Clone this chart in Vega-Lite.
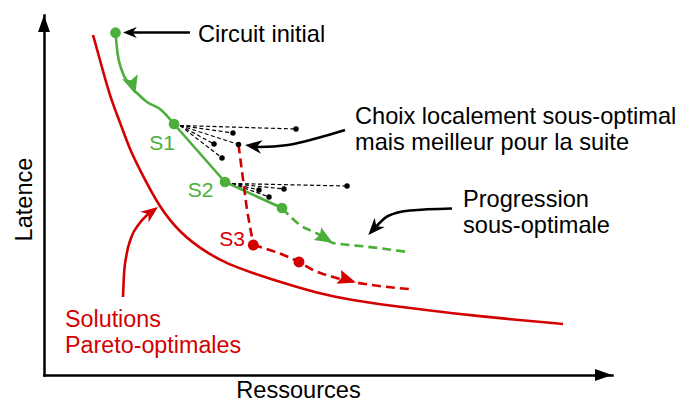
{
  "$schema": "https://vega.github.io/schema/vega-lite/v6.json",
  "width": 568,
  "height": 360,
  "autosize": {"type": "none"},
  "padding": {"left": 44, "top": 15, "right": 79, "bottom": 28},
  "background": "white",
  "config": {"view": {"stroke": null}, "font": "Liberation Sans"},
  "datasets": {
    "pareto": [{"x":8.63,"y":94.44},{"x":9.86,"y":87.5},{"x":11.62,"y":77.22},{"x":13.6,"y":69.3},{"x":15.14,"y":62.5},{"x":16.9,"y":56.94},{"x":20.25,"y":46.75},{"x":23.94,"y":39.44},{"x":28.64,"y":33.89},{"x":32.75,"y":30.56},{"x":36.27,"y":28.61},{"x":42.08,"y":25.56},{"x":48.06,"y":22.78},{"x":53.87,"y":20.83},{"x":62.68,"y":18.89},{"x":71.48,"y":17.22},{"x":83.27,"y":15.28},{"x":91.37,"y":14.17}],
    "gcurve": [{"x":12.59,"y":95.0},{"x":12.94,"y":89.44},{"x":13.68,"y":84.72},{"x":14.96,"y":80.83},{"x":16.55,"y":78.06},{"x":18.13,"y":75.83},{"x":20.42,"y":73.89},{"x":22.89,"y":69.72}],
    "gline": [{"x":22.89,"y":69.72},{"x":31.87,"y":53.61},{"x":41.9,"y":46.39}],
    "gdash": [{"x":41.9,"y":46.39},{"x":45.07,"y":41.67},{"x":48.06,"y":39.31},{"x":50.88,"y":36.67},{"x":52.11,"y":36.39},{"x":56.87,"y":35.64},{"x":64.44,"y":34.08}],
    "rdash1": [{"x":34.24,"y":64.03},{"x":35.74,"y":45.83},{"x":36.85,"y":36.11}],
    "rdash2": [{"x":36.85,"y":36.11},{"x":44.89,"y":31.39},{"x":47.36,"y":29.17},{"x":51.23,"y":27.08},{"x":54.93,"y":25.69},{"x":56.51,"y":25.28},{"x":64.61,"y":23.81}],
    "gpts": [{"x":12.59,"y":95.08},{"x":22.89,"y":69.72},{"x":31.87,"y":53.61},{"x":41.9,"y":46.39}],
    "rpts": [{"x":36.85,"y":36.11},{"x":44.89,"y":31.39}],
    "fans": [
      {"g":"a1","x":23.94,"y":69.31},{"g":"a1","x":44.37,"y":68.33},
      {"g":"a2","x":23.94,"y":69.31},{"g":"a2","x":33.27,"y":67.22},
      {"g":"a3","x":23.94,"y":69.31},{"g":"a3","x":29.93,"y":64.17},
      {"g":"a4","x":23.94,"y":69.31},{"g":"a4","x":34.24,"y":64.03},
      {"g":"a5","x":23.94,"y":69.31},{"g":"a5","x":31.34,"y":60.28},
      {"g":"b1","x":33.1,"y":53.19},{"g":"b1","x":37.85,"y":51.39},
      {"g":"b2","x":33.1,"y":53.19},{"g":"b2","x":39.61,"y":49.44},
      {"g":"b3","x":33.1,"y":53.19},{"g":"b3","x":42.25,"y":51.67},
      {"g":"b4","x":33.1,"y":53.19},{"g":"b4","x":53.35,"y":52.5}
    ],
    "bdots": [{"x":44.37,"y":68.33},{"x":33.27,"y":67.22},{"x":29.93,"y":64.17},{"x":34.24,"y":64.03},{"x":31.34,"y":60.28},{"x":37.85,"y":51.39},{"x":39.61,"y":49.44},{"x":42.25,"y":51.67},{"x":53.35,"y":52.5}],
    "ann": [
      {"a":"ci","x":25.7,"y":95.14},{"a":"ci","x":15.14,"y":95.14},
      {"a":"ch","x":52.99,"y":68.06},{"a":"ch","x":48.01,"y":65.75},{"a":"ch","x":42.96,"y":63.89},{"a":"ch","x":38.03,"y":63.33},{"a":"ch","x":36.62,"y":63.53},
      {"a":"pr","x":71.83,"y":46.25},{"a":"pr","x":64.44,"y":45.69},{"a":"pr","x":60.56,"y":44.17},{"a":"pr","x":58.1,"y":40.56}
    ],
    "rann": [{"x":13.91,"y":21.67},{"x":14.08,"y":27.78},{"x":14.52,"y":33.33},{"x":15.32,"y":38.06},{"x":16.73,"y":41.94},{"x":18.66,"y":45.14}],
    "heads": [
      {"id":"ay","x":0,"y":100},
      {"id":"ax","x":100,"y":0},
      {"id":"ci","x":13.91,"y":95.14},
      {"id":"ch","x":35.39,"y":63.89},
      {"id":"pr","x":57.1,"y":38.89},
      {"id":"so","x":20.07,"y":46.67},
      {"id":"g0","x":16.07,"y":78.06},
      {"id":"g1","x":50.88,"y":36.67},
      {"id":"r1","x":54.93,"y":25.69}
    ],
    "btext": [
      {"x":27.11,"y":92.5,"t":["Circuit initial"]},
      {"x":54.75,"y":69.86,"t":["Choix localement sous-optimal","mais meilleur pour la suite"]},
      {"x":73.77,"y":46.75,"t":["Progression","sous-optimale"]}
    ],
    "rtext": [{"x":3.7,"y":13.42,"t":["Solutions","Pareto-optimales"]}],
    "glab": [{"x":23.06,"y":62.5,"t":"S1"},{"x":29.81,"y":49.31,"t":"S2"}],
    "rlab": [{"x":35.39,"y":35.83,"t":"S3"}]
  },
  "encoding": {
    "x": {"field":"x","type":"quantitative","scale":{"domain":[0,100],"nice":false,"zero":false},
      "axis":{"title":"Ressources","domainColor":"black","domainWidth":2.5,"domainCap":"square","ticks":false,"labels":false,"grid":false,
        "titleFont":"Liberation Sans","titleFontSize":23.6,"titleFontWeight":"normal","titleColor":"black","titleX":254,"titleY":22,"titleBaseline":"alphabetic","titleAlign":"center"}},
    "y": {"field":"y","type":"quantitative","scale":{"domain":[0,100],"nice":false,"zero":false},
      "axis":{"title":"Latence","domainColor":"black","domainWidth":2.5,"domainCap":"square","ticks":false,"labels":false,"grid":false,
        "titleFont":"Liberation Sans","titleFontSize":23.6,"titleFontWeight":"normal","titleColor":"black","titleAngle":270,"titleX":-13,"titleY":184,"titleBaseline":"alphabetic","titleAlign":"center"}}
  },
  "layer": [
    {"data":{"name":"pareto"},"mark":{"type":"line","color":"#d40000","strokeWidth":2.6,"interpolate":"basis"}},
    {"data":{"name":"fans"},"mark":{"type":"line","color":"black","strokeWidth":1.2,"strokeDash":[4,2.5]},"encoding":{"detail":{"field":"g"}}},
    {"data":{"name":"gcurve"},"mark":{"type":"line","color":"#4caf3c","strokeWidth":2.6,"interpolate":"monotone"}},
    {"data":{"name":"gline"},"mark":{"type":"line","color":"#4caf3c","strokeWidth":2.6}},
    {"data":{"name":"gdash"},"mark":{"type":"line","color":"#4caf3c","strokeWidth":2.6,"strokeDash":[9,5],"interpolate":"monotone"}},
    {"data":{"name":"rdash1"},"mark":{"type":"line","color":"#d40000","strokeWidth":2.6,"strokeDash":[9,5]}},
    {"data":{"name":"rdash2"},"mark":{"type":"line","color":"#d40000","strokeWidth":2.6,"strokeDash":[9,5],"interpolate":"monotone"}},
    {"data":{"name":"ann"},"mark":{"type":"line","color":"black","strokeWidth":2.6,"interpolate":"monotone"},"encoding":{"detail":{"field":"a"}}},
    {"data":{"name":"rann"},"mark":{"type":"line","color":"#d40000","strokeWidth":2.6,"interpolate":"monotone"}},
    {"data":{"name":"bdots"},"mark":{"type":"point","filled":true,"color":"black","size":30,"opacity":1}},
    {"data":{"name":"gpts"},"mark":{"type":"point","filled":true,"color":"#4caf3c","size":115,"opacity":1}},
    {"data":{"name":"rpts"},"mark":{"type":"point","filled":true,"color":"#d40000","size":120,"opacity":1}},
    {"data":{"name":"heads"},"transform":[{"filter":"datum.id === 'ay'"}],"mark":{"type":"point","filled":true,"opacity":1,"color":"black","shape":"M0,0L-1,-0.35L-1,0.35Z","size":1156,"angle":-90}},
    {"data":{"name":"heads"},"transform":[{"filter":"datum.id === 'ax'"}],"mark":{"type":"point","filled":true,"opacity":1,"color":"black","shape":"M0,0L-1,-0.35L-1,0.35Z","size":1156,"angle":0}},
    {"data":{"name":"heads"},"transform":[{"filter":"datum.id === 'ci'"}],"mark":{"type":"point","filled":true,"opacity":1,"color":"black","shape":"M0,0L-1,-0.4L-0.7,0L-1,0.4Z","size":760,"angle":180}},
    {"data":{"name":"heads"},"transform":[{"filter":"datum.id === 'ch'"}],"mark":{"type":"point","filled":true,"opacity":1,"color":"black","shape":"M0,0L-1,-0.4L-0.7,0L-1,0.4Z","size":1150,"angle":187}},
    {"data":{"name":"heads"},"transform":[{"filter":"datum.id === 'pr'"}],"mark":{"type":"point","filled":true,"opacity":1,"color":"black","shape":"M0,0L-1,-0.4L-0.7,0L-1,0.4Z","size":1150,"angle":132}},
    {"data":{"name":"heads"},"transform":[{"filter":"datum.id === 'so'"}],"mark":{"type":"point","filled":true,"opacity":1,"color":"#d40000","shape":"M0,0L-1,-0.4L-0.7,0L-1,0.4Z","size":1150,"angle":-37}},
    {"data":{"name":"heads"},"transform":[{"filter":"datum.id === 'g0'"}],"mark":{"type":"point","filled":true,"opacity":1,"color":"#4caf3c","shape":"M0,0L-1,-0.45L-0.8,0L-1,0.45Z","size":1300,"angle":73}},
    {"data":{"name":"heads"},"transform":[{"filter":"datum.id === 'g1'"}],"mark":{"type":"point","filled":true,"opacity":1,"color":"#4caf3c","shape":"M0,0L-1,-0.4L-0.85,0L-1,0.4Z","size":1300,"angle":31}},
    {"data":{"name":"heads"},"transform":[{"filter":"datum.id === 'r1'"}],"mark":{"type":"point","filled":true,"opacity":1,"color":"#d40000","shape":"M0,0L-1,-0.4L-0.85,0L-1,0.4Z","size":1300,"angle":18}},
    {"data":{"name":"btext"},"mark":{"type":"text","align":"left","baseline":"alphabetic","fontSize":23.6,"lineHeight":26,"color":"black","font":"Liberation Sans"},"encoding":{"text":{"field":"t"}}},
    {"data":{"name":"rtext"},"mark":{"type":"text","align":"left","baseline":"alphabetic","fontSize":23.3,"lineHeight":26,"color":"#d40000","font":"Liberation Sans"},"encoding":{"text":{"field":"t"}}},
    {"data":{"name":"glab"},"mark":{"type":"text","align":"right","baseline":"alphabetic","fontSize":21,"color":"#4caf3c","font":"Liberation Sans"},"encoding":{"text":{"field":"t"}}},
    {"data":{"name":"rlab"},"mark":{"type":"text","align":"right","baseline":"alphabetic","fontSize":21,"color":"#d40000","font":"Liberation Sans"},"encoding":{"text":{"field":"t"}}}
  ]
}
